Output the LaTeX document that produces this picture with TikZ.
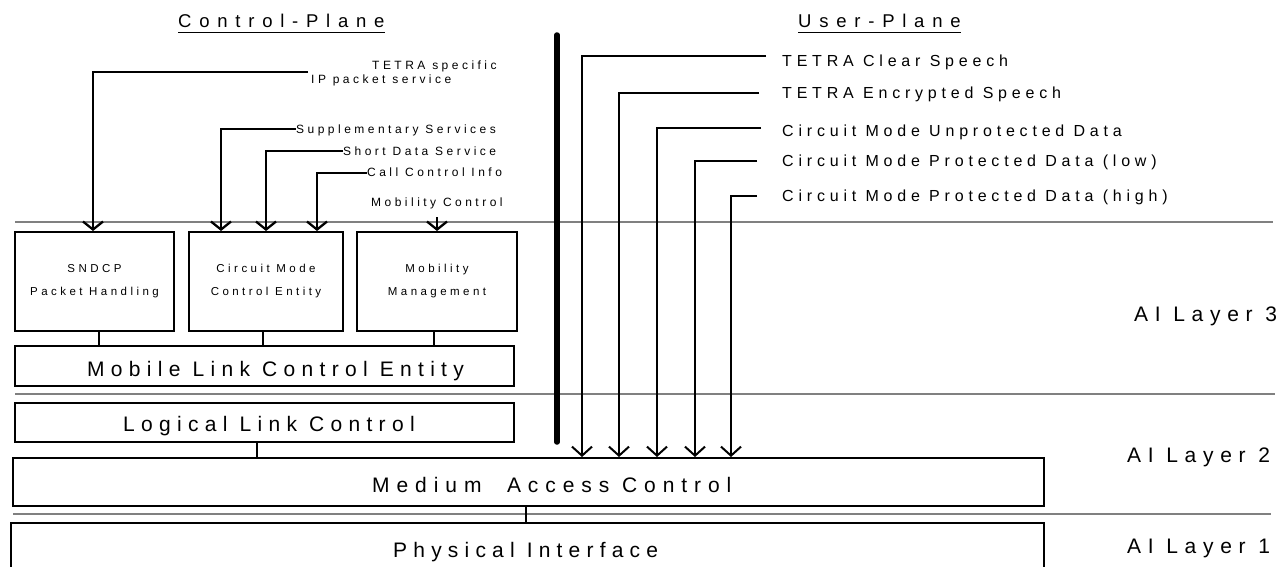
\documentclass[tikz,border=0pt]{standalone}
\usepackage{fontspec}
\setmainfont{Liberation Sans}
\newfontfamily\fTitle[LetterSpace=42]{Liberation Sans}
\newfontfamily\fSmall[LetterSpace=29]{Liberation Sans}
\newfontfamily\fBox[LetterSpace=30]{Liberation Sans}
\newfontfamily\fUser[LetterSpace=30]{Liberation Sans}
\newfontfamily\fBig[LetterSpace=30]{Liberation Sans}
\newfontfamily\fPhy[LetterSpace=29.5]{Liberation Sans}
\newfontfamily\fLay[LetterSpace=32]{Liberation Sans}
\newfontfamily\fMac[LetterSpace=33]{Liberation Sans}
\usetikzlibrary{arrows.meta}
\tikzset{
 box/.style={draw, line width=2pt, inner sep=0pt},
 ttl/.style={font=\fTitle\fontsize{18.5}{21}\selectfont, inner sep=0pt, anchor=base west},
 clab/.style={font=\fSmall\fontsize{12}{14}\selectfont, inner sep=0pt, anchor=base west},
 ulab/.style={font=\fUser\fontsize{16}{18}\selectfont, inner sep=0pt, anchor=base west},
 btxt/.style={font=\fBox\fontsize{11.5}{23}\selectfont, align=center},
 bigtxt/.style={font=\fBig\fontsize{21}{24}\selectfont, inner sep=0pt, anchor=base west},
 phytxt/.style={font=\fPhy\fontsize{21}{24}\selectfont, inner sep=0pt, anchor=base west},
 laytxt/.style={font=\fLay\fontsize{21}{24}\selectfont, inner sep=0pt, anchor=base west},
 mactxt/.style={font=\fMac\fontsize{21}{24}\selectfont, inner sep=0pt, anchor=base west},
 carrow/.style={line width=2.3pt, -{Straight Barb[length=8pt,width=20pt]}},
 uarrow/.style={line width=2pt, -{Straight Barb[length=9pt,width=20pt]}},
 conn/.style={line width=2pt},
 layerline/.style={line width=1.2pt, black!50},
 bar/.style={line width=5.5pt, line cap=round},
 uline/.style={line width=1.6pt}
}
\begin{document}
\begin{tikzpicture}[x=1pt,y=-1pt]
\useasboundingbox (0,0) rectangle (1286,567);

% layer separators
\coordinate (l1a) at (15,222);  \coordinate (l1b) at (1273,222);
\coordinate (l2a) at (15,394);  \coordinate (l2b) at (1275,394);
\coordinate (l3a) at (13,514);  \coordinate (l3b) at (1271,514);
\draw[layerline] (l1a) -- (l1b);
\draw[layerline] (l2a) -- (l2b);
\draw[layerline] (l3a) -- (l3b);

% titles
\node[ttl] (cpt) at (178,28) {Control-Plane};
\node[ttl] (upt) at (798,28) {User-Plane};
\draw[uline] ([yshift=-4.5pt]cpt.base west) -- ([yshift=-4.5pt]cpt.base east);
\draw[uline] ([yshift=-4.5pt]upt.base west) -- ([yshift=-4.5pt]upt.base east);

% boxes
\node[box, btxt, minimum width=159pt, minimum height=99pt] (sndcp) at (94.5,281.5) {SNDCP\\Packet Handling};
\node[box, btxt, minimum width=154pt, minimum height=99pt] (cmce) at (266,281.5) {Circuit Mode\\Control Entity};
\node[box, btxt, minimum width=160pt, minimum height=99pt] (mm) at (437,281.5) {Mobility\\Management};
\node[box, minimum width=499pt, minimum height=40pt] (mlce) at (264.5,366) {};
\node[box, minimum width=499pt, minimum height=39pt] (llc) at (264.5,422.5) {};
\node[box, minimum width=1031pt, minimum height=48pt] (mac) at (528.5,482) {};
\node[box, minimum width=1033pt, minimum height=48pt] (phy) at (527.5,547) {};

\node[bigtxt] (mlcet) at (87,376) {Mobile Link Control Entity};
\node[bigtxt] (llct) at (123,431) {Logical Link Control};
\node[mactxt] (mact) at (372,492) {Medium\ \ Access Control};
\node[phytxt] (phyt) at (393,557) {Physical Interface};

\node[laytxt] (ai3) at (1134,321) {AI Layer 3};
\node[laytxt] (ai2) at (1127,462) {AI Layer 2};
\node[laytxt] (ai1) at (1127,553) {AI Layer 1};

% box interconnections
\draw[conn] ([xshift=4.5pt]sndcp.south) -- ([xshift=4.5pt]sndcp.south |- mlce.north);
\draw[conn] ([xshift=-3pt]cmce.south) -- ([xshift=-3pt]cmce.south |- mlce.north);
\draw[conn] ([xshift=-3pt]mm.south) -- ([xshift=-3pt]mm.south |- mlce.north);
\draw[conn] ([xshift=-7.5pt]llc.south) -- ([xshift=-7.5pt]llc.south |- mac.north);
\draw[conn] ([xshift=-2.5pt]mac.south) -- ([xshift=-2.5pt]mac.south |- phy.north);

% control plane labels
\node[clab] (tsp) at (372,70) {TETRA specific};
\node[clab] (ips) at (311,84) {IP packet service};
\node[clab] (sup) at (296,134) {Supplementary Services};
\node[clab] (sds) at (343,156) {Short Data Service};
\node[clab] (cci) at (367,177) {Call Control Info};
\node[clab] (mco) at (371,207) {Mobility Control};

\coordinate (ipe) at (308,72);  \coordinate (cA) at (93,72);
\draw[carrow] (ipe) -- (cA) -- (cA |- sndcp.north);
\coordinate (cB) at (221,129);
\draw[carrow] (sup.west |- cB) -- (cB) -- (cB |- cmce.north);
\coordinate (cC) at (266,151);
\draw[carrow] (sds.west |- cC) -- (cC) -- (cC |- cmce.north);
\coordinate (cD) at (317,173);
\draw[carrow] (cci.west |- cD) -- (cD) -- (cD |- cmce.north);
\coordinate (cE) at (437,217);
\draw[carrow] (cE) -- (cE |- mm.north);

% user plane
\coordinate (bt) at (557,35); \coordinate (bb) at (557,442);
\draw[bar] (bt) -- (bb);

\node[ulab] (u1t) at (782,67) {TETRA Clear Speech};
\node[ulab] (u2t) at (782,99) {TETRA Encrypted Speech};
\node[ulab] (u3t) at (782,137) {Circuit Mode Unprotected Data};
\node[ulab] (u4t) at (782,167) {Circuit Mode Protected Data (low)};
\node[ulab] (u5t) at (782,202) {Circuit Mode Protected Data (high)};

\coordinate (u1e) at (766,56);  \coordinate (u1) at (582,56);
\coordinate (u2e) at (759,93);  \coordinate (u2) at (619,93);
\coordinate (u3e) at (761,128); \coordinate (u3) at (657,128);
\coordinate (u4e) at (757,161); \coordinate (u4) at (695,161);
\coordinate (u5e) at (757,196); \coordinate (u5) at (731,196);
\draw[uarrow] (u1e) -- (u1) -- (u1 |- mac.north);
\draw[uarrow] (u2e) -- (u2) -- (u2 |- mac.north);
\draw[uarrow] (u3e) -- (u3) -- (u3 |- mac.north);
\draw[uarrow] (u4e) -- (u4) -- (u4 |- mac.north);
\draw[uarrow] (u5e) -- (u5) -- (u5 |- mac.north);
\end{tikzpicture}
\end{document}
